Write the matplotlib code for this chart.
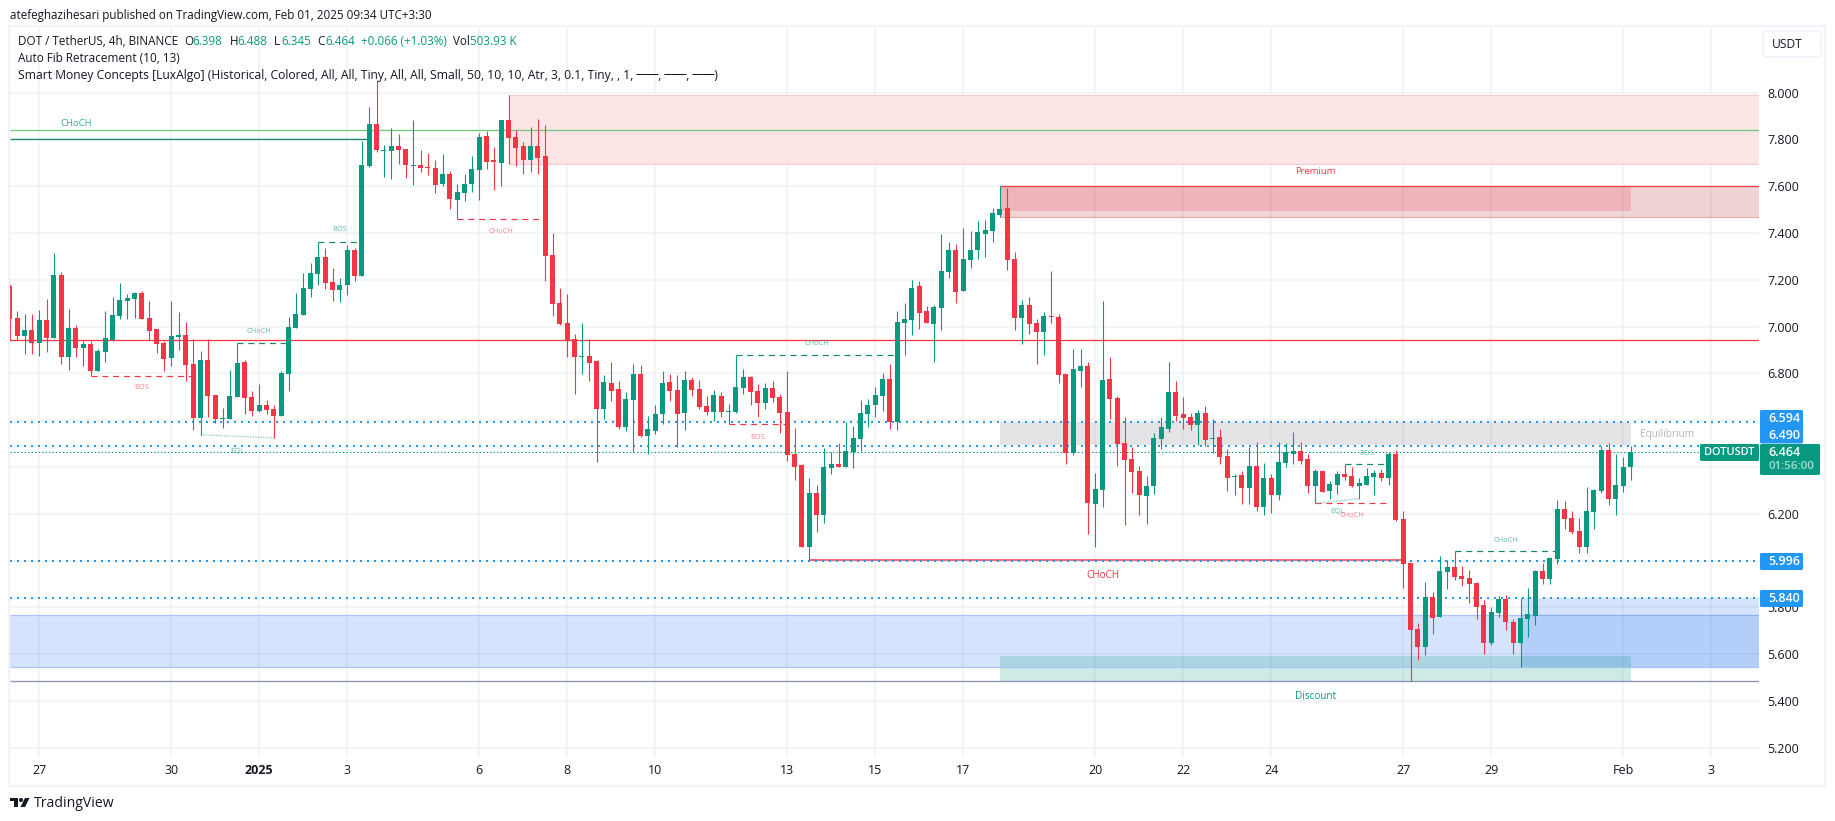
import numpy as np
import matplotlib
matplotlib.use('Agg')
import matplotlib.pyplot as plt
from matplotlib.patches import Rectangle, FancyBboxPatch, Circle, Polygon

plt.rcParams['font.family'] = ['Open Sans', 'DejaVu Sans']

# 4h candles, index 0 = Dec 27 00:00
opens = [7.171, 7.037, 6.960, 6.986,
    6.930, 7.028, 6.952, 7.221, 6.870, 6.994, 6.909, 6.926, 6.811, 6.892,
    6.943, 7.046, 7.110, 7.118, 7.144, 7.037, 6.990, 6.930, 6.866, 6.956,
    6.964, 6.840, 6.610, 6.858, 6.708, 6.606, 6.606, 6.699, 6.849, 6.699,
    6.640, 6.665, 6.648, 6.618, 6.798, 6.994, 7.050, 7.161, 7.225, 7.298,
    7.191, 7.157, 7.178, 7.327, 7.216, 7.686, 7.866, 7.750, 7.750, 7.772,
    7.759, 7.686, 7.691, 7.682, 7.678, 7.609, 7.652, 7.541, 7.571, 7.609,
    7.669, 7.814, 7.712, 7.699, 7.883, 7.810, 7.772, 7.712, 7.772, 7.729,
    7.306, 7.101, 7.016, 6.947, 6.870, 6.875, 6.854, 6.649, 6.760, 6.734,
    6.572, 6.687, 6.798, 6.533, 6.555, 6.627, 6.764, 6.730, 6.632, 6.773,
    6.734, 6.662, 6.636, 6.704, 6.636, 6.636, 6.739, 6.786, 6.726, 6.674,
    6.739, 6.700, 6.636, 6.456, 6.409, 6.059, 6.290, 6.196, 6.396, 6.414,
    6.401, 6.465, 6.521, 6.627, 6.666, 6.704, 6.777, 6.593, 7.017, 7.029,
    7.171, 7.068, 7.012, 7.081, 7.235, 7.329, 7.153, 7.286, 7.325, 7.397,
    7.410, 7.478, 7.508, 7.290, 7.038, 7.094, 7.017, 6.978, 7.047, 7.042,
    6.798, 6.461, 6.811, 6.833, 6.243, 6.303, 6.777, 6.696, 6.503, 6.435,
    6.384, 6.277, 6.320, 6.521, 6.563, 6.722, 6.628, 6.615, 6.580, 6.632,
    6.521, 6.529, 6.448, 6.358, 6.367, 6.311, 6.405, 6.230, 6.354, 6.281,
    6.418, 6.456, 6.469, 6.435, 6.320, 6.384, 6.298, 6.324, 6.371, 6.362,
    6.320, 6.324, 6.358, 6.375, 6.354, 6.456, 6.178, 5.990, 5.708, 5.631,
    5.845, 5.759, 5.952, 5.973, 5.935, 5.926, 5.905, 5.811, 5.648, 5.776,
    5.836, 5.738, 5.648, 5.751, 5.763, 5.956, 5.922, 6.007, 6.221, 6.183,
    6.127, 6.059, 6.208, 6.298, 6.473, 6.264, 6.319, 6.398]
closes = [7.034, 6.960, 6.986, 6.930,
    7.028, 6.952, 7.221, 6.870, 6.994, 6.909, 6.926, 6.811, 6.896, 6.952,
    7.050, 7.114, 7.122, 7.144, 7.033, 6.981, 6.926, 6.862, 6.960, 6.964,
    6.836, 6.610, 6.858, 6.704, 6.606, 6.610, 6.704, 6.845, 6.695, 6.640,
    6.665, 6.644, 6.618, 6.802, 6.999, 7.054, 7.165, 7.229, 7.298, 7.186,
    7.157, 7.178, 7.327, 7.216, 7.691, 7.866, 7.755, 7.755, 7.772, 7.755,
    7.691, 7.691, 7.678, 7.678, 7.605, 7.652, 7.545, 7.575, 7.609, 7.673,
    7.810, 7.703, 7.703, 7.883, 7.806, 7.763, 7.712, 7.772, 7.720, 7.302,
    7.097, 7.011, 6.943, 6.870, 6.875, 6.845, 6.649, 6.764, 6.726, 6.572,
    6.692, 6.798, 6.533, 6.563, 6.627, 6.760, 6.726, 6.627, 6.773, 6.730,
    6.657, 6.636, 6.709, 6.636, 6.640, 6.743, 6.786, 6.722, 6.674, 6.739,
    6.696, 6.632, 6.452, 6.401, 6.059, 6.290, 6.196, 6.401, 6.414, 6.401,
    6.469, 6.525, 6.632, 6.666, 6.709, 6.777, 6.593, 7.021, 7.034, 7.166,
    7.059, 7.017, 7.085, 7.239, 7.329, 7.149, 7.290, 7.329, 7.402, 7.414,
    7.483, 7.504, 7.286, 7.038, 7.094, 7.012, 6.978, 7.047, 7.042, 6.794,
    6.461, 6.820, 6.833, 6.247, 6.307, 6.773, 6.692, 6.499, 6.431, 6.379,
    6.281, 6.320, 6.525, 6.572, 6.722, 6.619, 6.610, 6.580, 6.632, 6.516,
    6.525, 6.444, 6.354, 6.362, 6.311, 6.405, 6.230, 6.354, 6.281, 6.422,
    6.465, 6.469, 6.426, 6.320, 6.384, 6.294, 6.328, 6.371, 6.358, 6.320,
    6.332, 6.362, 6.375, 6.354, 6.456, 6.174, 5.986, 5.704, 5.631, 5.845,
    5.755, 5.956, 5.973, 5.930, 5.922, 5.900, 5.802, 5.648, 5.781, 5.836,
    5.738, 5.648, 5.755, 5.772, 5.956, 5.922, 6.012, 6.221, 6.178, 6.123,
    6.059, 6.213, 6.302, 6.473, 6.264, 6.324, 6.401, 6.464]
highs = [7.182, 7.067, 7.054, 7.054,
    7.071, 7.118, 7.315, 7.234, 7.075, 7.007, 6.940, 6.940, 6.905, 7.067,
    7.127, 7.187, 7.140, 7.148, 7.152, 7.110, 6.990, 6.940, 7.110, 7.063,
    7.020, 6.947, 6.896, 6.947, 6.708, 6.652, 6.815, 6.929, 6.858, 6.725,
    6.755, 6.687, 6.665, 6.811, 7.041, 7.144, 7.229, 7.272, 7.360, 7.336,
    7.251, 7.208, 7.349, 7.336, 7.793, 7.938, 8.055, 7.776, 7.849, 7.823,
    7.759, 7.883, 7.755, 7.742, 7.712, 7.738, 7.665, 7.609, 7.652, 7.729,
    7.827, 7.836, 7.767, 7.883, 7.990, 7.840, 7.789, 7.853, 7.887, 7.861,
    7.400, 7.165, 7.140, 6.969, 7.016, 6.948, 6.858, 6.794, 6.850, 6.769,
    6.722, 6.841, 6.837, 6.619, 6.666, 6.811, 6.798, 6.794, 6.811, 6.786,
    6.773, 6.704, 6.730, 6.722, 6.670, 6.878, 6.820, 6.790, 6.756, 6.760,
    6.769, 6.713, 6.811, 6.568, 6.414, 6.354, 6.324, 6.482, 6.465, 6.503,
    6.593, 6.576, 6.687, 6.692, 6.743, 6.803, 6.841, 7.068, 7.102, 7.200,
    7.196, 7.089, 7.094, 7.397, 7.359, 7.354, 7.419, 7.410, 7.449, 7.453,
    7.508, 7.602, 7.590, 7.320, 7.115, 7.128, 7.034, 7.064, 7.239, 7.055,
    6.798, 6.905, 6.905, 6.850, 6.375, 7.111, 6.871, 6.705, 6.615, 6.486,
    6.405, 6.362, 6.546, 6.615, 6.850, 6.769, 6.700, 6.632, 6.645, 6.662,
    6.606, 6.563, 6.478, 6.371, 6.384, 6.486, 6.508, 6.418, 6.371, 6.508,
    6.503, 6.550, 6.508, 6.456, 6.392, 6.384, 6.341, 6.384, 6.414, 6.401,
    6.354, 6.396, 6.388, 6.392, 6.465, 6.474, 6.213, 5.990, 5.734, 5.909,
    5.866, 6.020, 6.003, 6.040, 5.977, 5.960, 5.909, 5.832, 5.802, 5.849,
    5.853, 5.751, 5.841, 5.883, 5.960, 5.990, 6.016, 6.260, 6.255, 6.213,
    6.183, 6.315, 6.307, 6.491, 6.503, 6.456, 6.443, 6.488]
lows = [6.940, 6.943, 6.883, 6.883,
    6.875, 6.892, 6.952, 6.841, 6.815, 6.870, 6.832, 6.789, 6.811, 6.849,
    6.940, 7.033, 7.033, 7.037, 7.033, 6.943, 6.887, 6.811, 6.832, 6.900,
    6.768, 6.559, 6.537, 6.614, 6.588, 6.567, 6.606, 6.699, 6.627, 6.618,
    6.635, 6.627, 6.524, 6.618, 6.725, 6.994, 7.050, 7.127, 7.178, 7.161,
    7.110, 7.105, 7.135, 7.195, 7.216, 7.682, 7.746, 7.639, 7.631, 7.695,
    7.635, 7.605, 7.661, 7.648, 7.571, 7.601, 7.503, 7.459, 7.537, 7.575,
    7.541, 7.673, 7.584, 7.601, 7.695, 7.686, 7.652, 7.661, 7.652, 7.195,
    7.046, 7.007, 6.870, 6.712, 6.798, 6.769, 6.422, 6.606, 6.683, 6.563,
    6.555, 6.465, 6.529, 6.456, 6.542, 6.585, 6.683, 6.486, 6.559, 6.704,
    6.649, 6.623, 6.597, 6.615, 6.585, 6.632, 6.713, 6.666, 6.615, 6.649,
    6.679, 6.546, 6.426, 6.345, 6.059, 6.000, 6.123, 6.161, 6.371, 6.401,
    6.401, 6.396, 6.469, 6.572, 6.615, 6.640, 6.563, 6.559, 6.880, 6.965,
    6.991, 7.017, 6.850, 6.987, 7.209, 7.102, 7.153, 7.252, 7.290, 7.295,
    7.359, 7.470, 7.243, 6.987, 6.927, 6.970, 6.841, 6.880, 7.017, 6.760,
    6.414, 6.452, 6.743, 6.114, 6.059, 6.230, 6.606, 6.405, 6.153, 6.290,
    6.195, 6.157, 6.285, 6.478, 6.550, 6.598, 6.563, 6.559, 6.495, 6.491,
    6.461, 6.414, 6.298, 6.281, 6.243, 6.243, 6.213, 6.196, 6.204, 6.260,
    6.401, 6.414, 6.414, 6.290, 6.245, 6.294, 6.264, 6.285, 6.345, 6.315,
    6.264, 6.324, 6.281, 6.341, 6.324, 6.170, 5.883, 5.487, 5.575, 5.597,
    5.687, 5.759, 5.879, 5.918, 5.892, 5.819, 5.751, 5.601, 5.640, 5.759,
    5.704, 5.601, 5.547, 5.674, 5.725, 5.900, 5.900, 5.986, 6.136, 6.114,
    6.033, 6.033, 6.136, 6.290, 6.238, 6.195, 6.294, 6.345]
first_candle = -4

date_ticks = [0, 18, 30, 42, 60, 72, 84, 102, 114, 126, 144, 156, 168, 186, 198, 216, 228]
date_labels = ['27', '30', '2025', '3', '6', '8', '10', '13', '15', '17', '20', '22', '24', '27', '29', 'Feb', '3']
price_ticks = [5.2, 5.4, 5.6, 5.8, 6.0, 6.2, 6.4, 6.6, 6.8, 7.0, 7.2, 7.4, 7.6, 7.8, 8.0]
price_labels = ['5.200', '5.400', '5.600', '5.800', '', '6.200', '', '', '6.800', '7.000', '7.200', '7.400', '7.600', '7.800', '8.000']

# fib levels
fib_levels = [6.594, 6.490, 5.996, 5.840]
last_close = 6.464

# market structure breaks: start candle, end candle, price
green_dash = [(38, 44, 7.360), (27, 34, 6.929), (95, 117, 6.878), (178, 184, 6.412), (193, 207, 6.040)]
red_dash = [(7, 21, 6.790), (57, 69, 7.458), (94, 102, 6.583), (174, 184, 6.245)]
eql_lines = [(22, 32, 6.537, 6.524), (174, 180, 6.245, 6.264)]

# small labels: candle, price, text
green_labels = [(30, 6.978, 'CHoCH'), (41, 7.413, 'BOS'), (27, 6.465, 'EQL'), (106, 6.927, 'CHoCH'),
                (181, 6.458, 'BOS'), (177, 6.209, 'EQL'), (200, 6.085, 'CHoCH')]
red_labels = [(14, 6.739, 'BOS'), (63, 7.405, 'CHoCH'), (98, 6.525, 'BOS'), (179, 6.192, 'CHoCH')]

green = '#089981'
red = '#f23645'
blue = '#2196f3'
ink = '#131722'
grid_col = '#f0f1f4'
W, H = 1835, 821
PT = 0.72  # points per pixel at dpi 100

fig = plt.figure(figsize=(W / 100, H / 100), dpi=100, facecolor='white')
ax = fig.add_axes([10 / W, 1 - 757 / H, (1759 - 10) / W, (757 - 28) / H])
x0, x1 = (10 - 39.3) / 7.333, (1759 - 39.3) / 7.333
ax.set_xlim(x0, x1)
ax.set_ylim(8 - (757 - 92.5) / 234, 8 + (92.5 - 28) / 234)
for s in ax.spines.values():
    s.set_visible(False)

ax.set_xticks(date_ticks)
ax.set_xticklabels(date_labels, fontsize=12.5 * PT, color=ink)
ax.get_xticklabels()[2].set_fontweight('bold')
ax.set_yticks(price_ticks)
ax.set_yticklabels(price_labels, fontsize=12.5 * PT, color=ink)
ax.yaxis.tick_right()
ax.tick_params(axis='y', length=0, pad=8 * PT)
ax.tick_params(axis='x', length=0, pad=7 * PT)
ax.grid(True, color=grid_col, lw=1.5 * PT, zorder=0)
ax.set_axisbelow(True)

# zones
def zone(a, b, lo, hi, col, alpha, z=1):
    ax.add_patch(Rectangle((a, lo), b - a, hi - lo, fc=col, alpha=alpha, lw=0, zorder=z))

ax.add_patch(Rectangle((64, 7.696), x1 - 64, 7.989 - 7.696, fc='#fde4e5', ec='#f6c9cd', lw=1 * PT, zorder=1))
zone(131, x1, 7.469, 7.599, '#b22833', 0.2)
zone(131, 217, 7.494, 7.599, red, 0.2)
ax.hlines(7.599, 131, x1, color=red, lw=1.2 * PT, zorder=2)
ax.hlines(7.469, 131, x1, color='#e8a5ab', lw=1.2 * PT, zorder=2)
zone(131, 217, 6.492, 6.594, '#787b86', 0.2)
zone(x0, x1, 5.546, 5.766, '#2d78f0', 0.2)
zone(202, x1, 5.546, 5.840, '#2d78f0', 0.2)
ax.hlines([5.766, 5.546], x0, x1, color='#a9c3f5', lw=1.2 * PT, zorder=2)
ax.hlines(5.766, 202, x1, color='#90b0ef', lw=1.2 * PT, zorder=2)
zone(131, 217, 5.484, 5.592, green, 0.2)
ax.hlines(5.484, x0, x1, color='#8a92b4', lw=1.3 * PT, zorder=2)

# horizontal levels
ax.hlines(7.838, x0, x1, color='#6fcb7f', lw=1.3 * PT, zorder=2)
ax.hlines(7.800, x0, 45, color='#14876c', lw=1.3 * PT, zorder=2)
ax.hlines(6.941, x0, x1, color=red, lw=1.3 * PT, zorder=2)
ax.hlines(6.002, 105, 186, color=red, lw=1.5 * PT, zorder=2)
ax.plot([x0, x1], [last_close, last_close], color=green, lw=1 * PT, ls=(0, (1.5, 2)), zorder=2)
for lvl in fib_levels:
    ax.plot([x0, x1], [lvl, lvl], color=blue, lw=2 * PT, ls=(0, (1, 2.5)), zorder=2)

for a, b, p in green_dash:
    ax.plot([a, b], [p, p], color='#14876c', lw=1.2 * PT, ls=(0, (5, 4)), zorder=2)
for a, b, p in red_dash:
    ax.plot([a, b], [p, p], color=red, lw=1.2 * PT, ls=(0, (5, 4)), zorder=2)
for a, b, p, q in eql_lines:
    ax.plot([a, b], [p, q], color='#85cbbd', lw=1.3 * PT, ls=(0, (1, 1)), zorder=2)

# candles
idx = np.arange(first_candle, first_candle + len(opens))
o = np.array(opens)
c = np.array(closes)
cols = [green if b >= a else red for a, b in zip(o, c)]
ax.vlines(idx, lows, highs, colors=cols, lw=1.1 * PT, zorder=3)
ax.bar(idx, np.maximum(np.abs(c - o), 0.004), bottom=np.minimum(o, c), width=5 / 7.333, color=cols, lw=0, zorder=3)

# chart labels
for i, p, t in green_labels:
    ax.text(i, p, t, color=green, alpha=0.65, fontsize=7.5 * PT, ha='center', va='center', zorder=4)
for i, p, t in red_labels:
    ax.text(i, p, t, color=red, alpha=0.6, fontsize=7.5 * PT, ha='center', va='center', zorder=4)
ax.text(5, 7.866, 'CHoCH', color=green, alpha=0.8, fontsize=9.5 * PT, ha='center', va='center', zorder=4)
ax.text(145, 5.934, 'CHoCH', color=red, fontsize=10 * PT, ha='center', va='center', zorder=4)
ax.text(174, 7.661, 'Premium', color=red, fontsize=9.5 * PT, ha='center', va='center', zorder=4)
ax.text(174, 5.418, 'Discount', color=green, fontsize=10 * PT, ha='center', va='center', zorder=4)
ax.text(222, 6.537, 'Equilibrium', color='#b2b5be', fontsize=10 * PT, ha='center', va='center', zorder=4)

# page furniture in pixel coordinates
over = fig.add_axes([0, 0, 1, 1], zorder=5, facecolor='none')
over.set_xlim(0, W)
over.set_ylim(H, 0)
over.axis('off')

over.add_patch(Rectangle((9, 26), 1816, 760, fc='none', ec='#f0f3fa', lw=2.2 * PT))

def label(x, y, s, col=ink, size=12.5, **kw):
    over.text(x, y, s, color=col, fontsize=size * PT, va='center', **kw)

label(10, 15, 'atefeghazihesari published on TradingView.com, Feb 01, 2025 09:34 UTC+3:30', size=11.6)
label(18, 41.5, 'DOT / TetherUS, 4h, BINANCE', size=11.6)
for x, s, col in [(184, 'O', ink), (192, '6.398', green), (230, 'H', ink), (237.5, '6.488', green),
                  (274, 'L', ink), (281, '6.345', green), (317, 'C', ink), (325, '6.464', green),
                  (361, '+0.066 (+1.03%)', green), (453, 'Vol', ink), (469.5, '503.93 K', green)]:
    label(x, 41.5, s, col, size=11.6)
label(18, 58.5, 'Auto Fib Retracement (10, 13)', size=11.8)
label(18, 76, 'Smart Money Concepts [LuxAlgo] (Historical, Colored, All, All, Tiny, All, All, Small, 50, 10, 10, Atr, 3, 0.1, Tiny, , 1, ───, ───, ───)', size=12.15)

over.add_patch(FancyBboxPatch((1763, 31), 58, 26, boxstyle='round,pad=0,rounding_size=4', fc='white', ec='#f0f3fa', lw=1.5 * PT))
label(1772, 44.5, 'USDT', size=12)

# price axis tags
def tag(x, y, w, h, col):
    over.add_patch(FancyBboxPatch((x, y), w, h, boxstyle='round,pad=0,rounding_size=1.5', fc=col, ec='none'))

tag(1760, 410, 43, 33.5, blue)
tag(1760, 553, 43, 17, blue)
tag(1760, 590, 43, 17, blue)
tag(1700, 444, 59, 17, green)
tag(1760, 444, 60, 31, green)
for y, s in [(418.5, '6.594'), (435.5, '6.490'), (561.5, '5.996'), (598.5, '5.840')]:
    label(1768, y, s, 'white', weight='semibold')
label(1704, 452.5, 'DOTUSDT', 'white', size=11, weight='semibold')
label(1768, 452.5, '6.464', 'white', weight='semibold')
label(1768, 466.5, '01:56:00', '#a6e0d3', size=11.5, weight='semibold')

# TradingView mark
over.add_patch(Polygon([(10, 798), (18, 798), (18, 807), (14, 807), (14, 801.5), (10, 801.5)], fc=ink, ec='none'))
over.add_patch(Circle((21, 800), 2, fc=ink, ec='none'))
over.add_patch(Polygon([(25, 798), (29.5, 798), (25, 807), (20.5, 807)], fc=ink, ec='none'))
label(34, 803.5, 'TradingView', size=14)

fig.savefig('out.png', dpi=100)
